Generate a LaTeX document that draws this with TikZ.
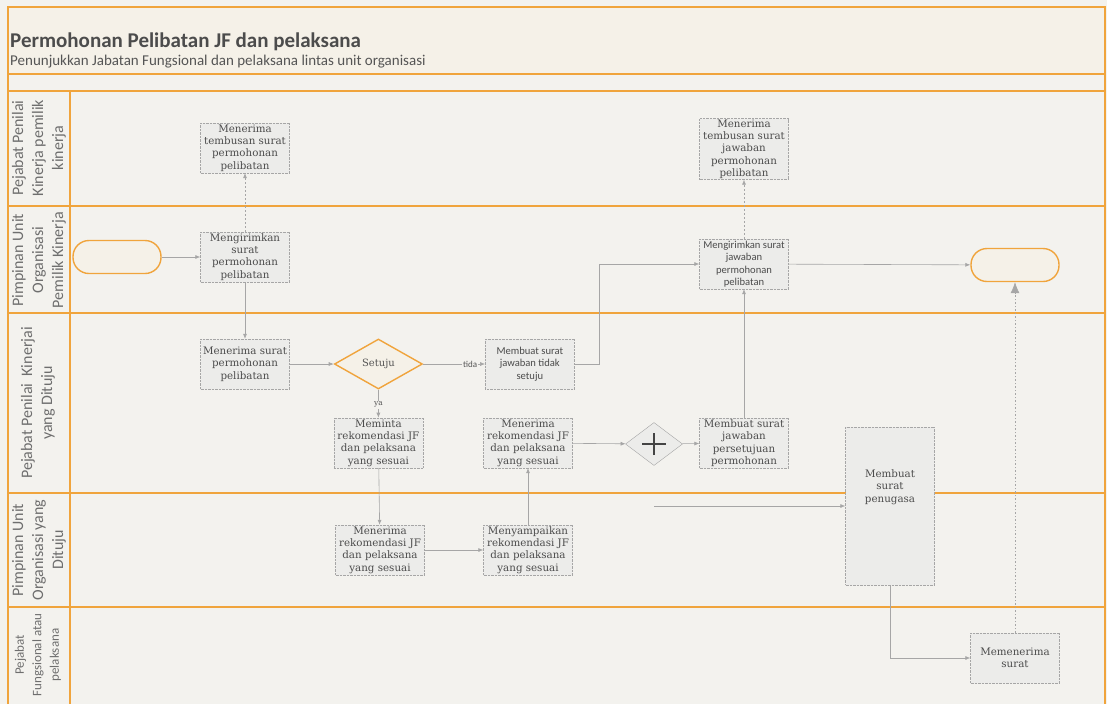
\documentclass[tikz,border=0pt]{standalone}
\usepackage{fontspec}
\setmainfont{Carlito}
\newfontfamily\boxfont{DejaVu Serif}
\usepackage{tikz}
\usetikzlibrary{positioning,arrows.meta,shapes.geometric}
\definecolor{lanec}{HTML}{F0A43C}
\definecolor{paper}{HTML}{F3F2EE}
\definecolor{headbg}{HTML}{F5F1E8}
\definecolor{ink}{HTML}{555555}
\definecolor{taskbg}{HTML}{ECECEA}
\definecolor{wire}{HTML}{A6A6A6}

\begin{document}
\begin{tikzpicture}[
    x=1pt, y=-1pt,
    laneline/.style={draw=lanec, line width=1.4pt},
    lanelabel/.style={rotate=90, align=center, text=ink!85, font=\fontsize{16}{20}\selectfont},
    task/.style={draw=wire, densely dotted, fill=taskbg, minimum width=89pt, minimum height=50pt, inner sep=1pt, align=center, text=ink!90!black, font=\boxfont\fontsize{10.3}{12.3}\selectfont},
    sanstask/.style={task, font=\fontsize{10.6}{12.5}\selectfont},
    term/.style={draw=lanec, line width=1.4pt, fill=headbg, rounded corners=16pt, minimum width=88pt, minimum height=33pt},
    decision/.style={diamond, draw=lanec, line width=1.4pt, fill=headbg, minimum width=88pt, minimum height=50pt, inner sep=0pt, text=ink, font=\boxfont\fontsize{10}{12}\selectfont},
    gateway/.style={diamond, draw=wire, fill=taskbg, minimum width=57pt, minimum height=43pt, inner sep=0pt},
    arr/.style={-{Latex[length=5pt, width=4pt]}, draw=wire, line width=0.6pt},
    copyarr/.style={arr, dash pattern=on 2pt off 2pt},
    flowlabel/.style={fill=paper, inner sep=1pt, text=ink}
]
    % Page and frame
    \fill[paper] (0,0) rectangle (1107,704);
    \fill[headbg] (8,7) rectangle (1105,74);
    \draw[laneline] (8,704) -- (8,7) -- (1105,7) -- (1105,704);
    \foreach \yy in {74,91,206,313,493,607}
        \draw[laneline] (8,\yy) -- (1105,\yy);
    \draw[laneline] (70,91) -- (70,704);

    % Title
    \node[anchor=base west, inner sep=0pt, text=ink!90!black, font=\bfseries\fontsize{21}{24}\selectfont] (title) at (10,47) {Permohonan Pelibatan JF dan pelaksana};
    \node[anchor=base west, inner sep=0pt, text=ink, font=\fontsize{15}{17}\selectfont] (subtitle) at (10,65) {Penunjukkan Jabatan Fungsional dan pelaksana lintas unit organisasi};

    % Lanes
    \node[lanelabel] (lane1) at (39,148) {Pejabat Penilai\\Kinerja pemilik\\kinerja};
    \node[lanelabel] (lane2) at (39,260) {Pimpinan Unit\\Organisasi\\Pemilik Kinerja};
    \node[lanelabel] (lane3) at (38,403) {Pejabat Penilai~ Kinerjai\\yang Dituju};
    \node[lanelabel] (lane4) at (39,550) {Pimpinan Unit\\Organisasi yang\\Dituju};
    \node[lanelabel, font=\fontsize{13}{17.5}\selectfont] (lane5) at (38,655) {Pejabat\\Fungsional atau\\pelaksana};

    % Requesting unit
    \node[term] (start) at (117,257) {};
    \node[task] (tembus1) at (245,148) {Menerima\\tembusan surat\\permohonan\\pelibatan};
    \node[task] (kirim1) at (245,257) {Mengirimkan\\surat\\permohonan\\pelibatan};

    % Target unit
    \node[task] (terima1) at (245,364) {Menerima surat\\permohonan\\pelibatan};
    \node[decision, right=44pt of terima1] (setuju) {Setuju};
    \node[sanstask, right=62pt of setuju] (tolak) {Membuat surat\\jawaban tidak\\setuju};
    \node[task, below=28pt of setuju] (minta) {Meminta\\rekomendasi JF\\dan pelaksana\\yang sesuai};
    \node[task] (terimarek) at (528,443) {Menerima\\rekomendasi JF\\dan pelaksana\\yang sesuai};
    \node[task] (terimarek4) at (380,550) {Menerima\\rekomendasi JF\\dan pelaksana\\yang sesuai};
    \node[task] (sampaikan) at (528,550) {Menyampaikan\\rekomendasi JF\\dan pelaksana\\yang sesuai};
    \node[gateway] (gabung) at (654,444) {};
    \node[task] (setujui) at (744,443) {Membuat surat\\jawaban\\persetujuan\\permohonan};
    \node[sanstask] (kirim2) at (744,264) {Mengirimkan surat\\jawaban\\permohonan\\pelibatan};
    \node[task] (tembus2) at (744,149) {Menerima\\tembusan surat\\jawaban\\permohonan\\pelibatan};
    \node[term] (end) at (1015,265) {};
    \node[task, minimum height=158pt] (tugas) at (890,506) {Membuat\\surat\\penugasa\\[28pt]~};
    \node[task] (memenerima) at (1015,658) {Memenerima\\surat};
    \coordinate (tugasin) at (654,506);

    % Plus sign of the gateway
    \draw[ink!80!black, line width=2.8pt] ([xshift=-12pt]gabung.center) -- ([xshift=12pt]gabung.center);
    \draw[ink!80!black, line width=2.8pt] ([yshift=-11pt]gabung.center) -- ([yshift=11pt]gabung.center);

    % Connections
    \draw[arr] (start) -- (kirim1);
    \draw[copyarr] (kirim1) -- (tembus1);
    \draw[arr] (kirim1) -- (terima1);
    \draw[arr] (terima1) -- (setuju);
    \draw[arr] (setuju) -- (tolak) node[flowlabel, pos=0.76, font=\fontsize{9}{10}\selectfont] {tida};
    \draw[arr] (setuju) -- (minta) node[flowlabel, pos=0.54, font=\boxfont\fontsize{7.5}{9}\selectfont] {ya};
    \draw[arr] (tolak.east) -- ++(25,0) |- (kirim2.west);
    \draw[arr] (minta) -- (terimarek4);
    \draw[arr] (terimarek4) -- (sampaikan);
    \draw[arr] (sampaikan) -- (terimarek);
    \draw[arr] (terimarek) -- (gabung);
    \draw[arr] (gabung) -- (setujui);
    \draw[arr] (setujui) -- (kirim2);
    \draw[copyarr] (kirim2) -- (tembus2);
    \draw[arr] (kirim2) -- (end);
    \draw[arr] (tugasin) -- (tugas.west);
    \draw[arr] (tugas.south) |- (memenerima.west);
    \draw[draw=wire, dash pattern=on 1.5pt off 2pt, line width=0.6pt, -{Latex[length=11pt, width=9pt]}] (memenerima) -- (end);
\end{tikzpicture}
\end{document}
